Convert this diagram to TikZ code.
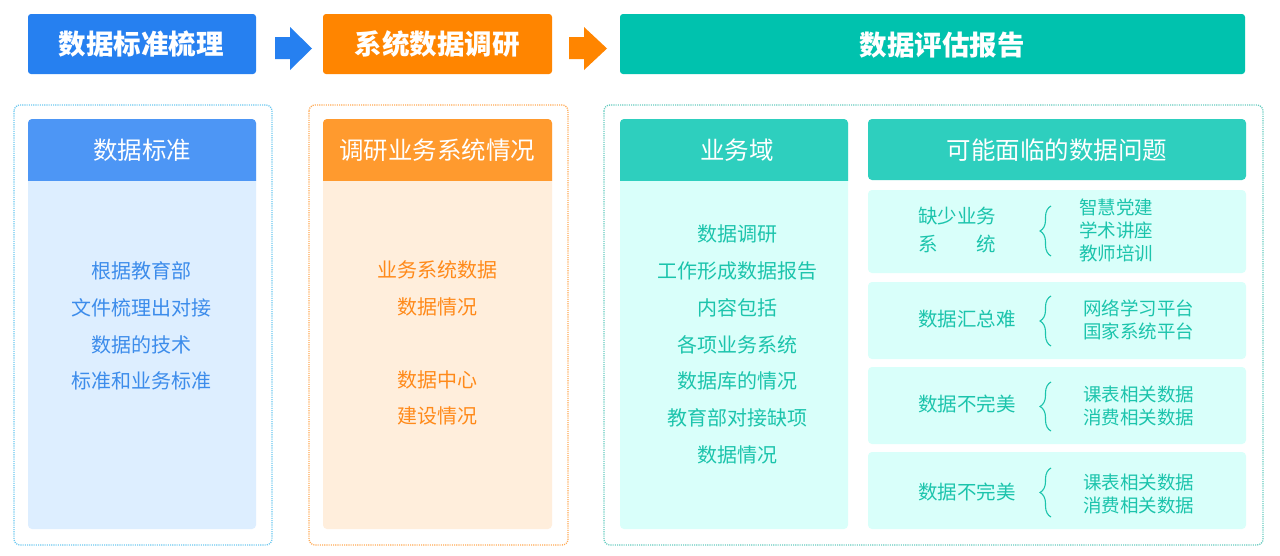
\documentclass[tikz,border=0pt]{standalone}
\usepackage{fontspec}
\setmainfont{Noto Sans CJK SC}
\usetikzlibrary{decorations.pathreplacing}
\definecolor{hblue}{HTML}{2680F0}
\definecolor{horange}{HTML}{FF8500}
\definecolor{hteal}{HTML}{00C2AE}
\definecolor{pblue}{HTML}{4D96F5}
\definecolor{porange}{HTML}{FF9A2E}
\definecolor{pteal}{HTML}{2ECFBE}
\definecolor{bblue}{HTML}{DDEEFF}
\definecolor{borange}{HTML}{FFEEDC}
\definecolor{bteal}{HTML}{D9FFFA}
\definecolor{tblue}{HTML}{3C8CEB}
\definecolor{torange}{HTML}{FF8A1A}
\definecolor{tteal}{HTML}{1CC4AC}
\definecolor{dblue}{HTML}{6CC8F0}
\definecolor{dorange}{HTML}{FFAA55}
\definecolor{dteal}{HTML}{66CCC0}
\tikzset{
  htext/.style={text=white,font=\bfseries\fontsize{27.5}{30}\selectfont,inner sep=0pt},
  ptext/.style={text=white,font=\fontsize{24.5}{28}\selectfont,inner sep=0pt},
  btext/.style={font=\fontsize{20}{36.8}\selectfont,align=center,inner sep=0pt},
  rtext/.style={text=tteal,font=\fontsize{19.5}{27.5}\selectfont,align=left,inner sep=0pt,anchor=west},
  itext/.style={text=tteal,font=\fontsize{18.5}{23}\selectfont,align=left,inner sep=0pt,anchor=west},
  dotbox/.style={line width=1.3pt,dash pattern=on 1.1pt off 1.1pt,rounded corners=6pt},
  brc/.style={draw=tteal,line width=1.1pt,decorate,decoration={brace,amplitude=11pt}},
}
\begin{document}
\begin{tikzpicture}[x=1pt,y=-1pt]
\useasboundingbox (0,0) rectangle (1280,555);
\fill[white] (0,0) rectangle (1280,555);
% top headers
\fill[hblue,rounded corners=3pt] (28,14) rectangle (256,74);
\node[htext] (h1) at (141,44) {数据标准梳理};
\fill[horange,rounded corners=3pt] (323,14) rectangle (552,74);
\node[htext] (h2) at (437,44) {系统数据调研};
\fill[hteal,rounded corners=3pt] (620,14) rectangle (1245,74);
\node[htext] (h3) at (942,45) {数据评估报告};
% block arrows
\fill[hblue] (275,37) -- (290,37) -- (290,27) -- (312,48.5) -- (290,70) -- (290,59) -- (275,59) -- cycle;
\fill[horange] (569,37) -- (584,37) -- (584,27) -- (607,48.5) -- (584,70) -- (584,59) -- (569,59) -- cycle;
% dotted containers
\draw[dotbox,draw=dblue] (14,105) rectangle (272,545);
\draw[dotbox,draw=dorange] (309,105) rectangle (568,545);
\draw[dotbox,draw=dteal] (604,105) rectangle (1263,545);
% panel 1
\fill[bblue,rounded corners=4pt] (28,119) rectangle (256,529);
\begin{scope}\clip (28,119) rectangle (256,180);
\fill[pblue,rounded corners=4pt] (28,119) rectangle (256,200);
\end{scope}
\node[ptext] (p1) at (142,150) {数据标准};
\node[btext,text=tblue] (b1) at (141,326) {根据教育部\\文件梳理出对接\\数据的技术\\标准和业务标准};
% panel 2
\fill[borange,rounded corners=4pt] (323,119) rectangle (552,529);
\begin{scope}\clip (323,119) rectangle (552,180);
\fill[porange,rounded corners=4pt] (323,119) rectangle (552,200);
\end{scope}
\node[ptext] (p2) at (437,150) {调研业务系统情况};
\node[btext,text=torange] (b2a) at (437,288) {业务系统数据\\数据情况};
\node[btext,text=torange] (b2b) at (437,398) {数据中心\\建设情况};
% panel 3
\fill[bteal,rounded corners=4pt] (620,119) rectangle (848,529);
\begin{scope}\clip (620,119) rectangle (848,180);
\fill[pteal,rounded corners=4pt] (620,119) rectangle (848,200);
\end{scope}
\node[ptext] (p3) at (737,150) {业务域};
\node[btext,text=tteal] (b3) at (737,344.5) {数据调研\\工作形成数据报告\\内容包括\\各项业务系统\\数据库的情况\\教育部对接缺项\\数据情况};
% panel 4
\fill[pteal,rounded corners=4pt] (868,119) rectangle (1246,180);
\node[ptext] (p4) at (1057,150) {可能面临的数据问题};
\fill[bteal,rounded corners=4pt] (868,190) rectangle (1246,273);
\fill[bteal,rounded corners=4pt] (868,282) rectangle (1246,359);
\fill[bteal,rounded corners=4pt] (868,367) rectangle (1246,444);
\fill[bteal,rounded corners=4pt] (868,452) rectangle (1246,529);
% row 1
\node[rtext] (r1) at (918,230) {缺少业务\\系\hspace{2em}统};
\coordinate (r1b) at (1051,256); \coordinate (r1t) at (1051,206);
\draw[brc] (r1b) -- (r1t);
\node[itext] (i1) at (1079,230) {智慧党建\\学术讲座\\教师培训};
% row 2
\node[rtext] (r2) at (918,319) {数据汇总难};
\coordinate (r2b) at (1051,346); \coordinate (r2t) at (1051,296);
\draw[brc] (r2b) -- (r2t);
\node[itext] (i2) at (1083,320) {网络学习平台\\国家系统平台};
% row 3
\node[rtext] (r3) at (918,404) {数据不完美};
\coordinate (r3b) at (1051,431); \coordinate (r3t) at (1051,382);
\draw[brc] (r3b) -- (r3t);
\node[itext] (i3) at (1083,406) {课表相关数据\\消费相关数据};
% row 4
\node[rtext] (r4) at (918,492.5) {数据不完美};
\coordinate (r4b) at (1051,517); \coordinate (r4t) at (1051,468);
\draw[brc] (r4b) -- (r4t);
\node[itext] (i4) at (1083,493.5) {课表相关数据\\消费相关数据};
\end{tikzpicture}
\end{document}
